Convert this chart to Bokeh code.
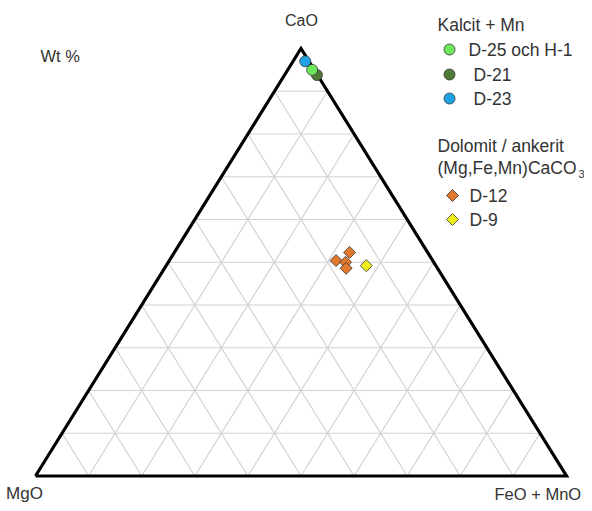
import numpy as np
from bokeh.plotting import figure
from bokeh.models import Range1d
from bokeh.core.properties import value
from bokeh.embed import file_html
from bokeh.resources import INLINE

# ---------------- data (wt %, CaO / MgO / FeO+MnO) ----------------
grid_ticks = [10, 20, 30, 40, 50, 60, 70, 80, 90]

d21_cao = [93.8]
d21_mgo = [0.1]
d21_feo = [6.1]

d25_cao = [95.0]
d25_mgo = [0.4]
d25_feo = [4.6]

d23_cao = [97.0]
d23_mgo = [0.7]
d23_feo = [2.3]

d12_cao = [52.3, 50.4, 50.0, 48.6]
d12_mgo = [14.7, 18.2, 16.6, 17.2]
d12_feo = [33.0, 31.4, 33.4, 34.2]

d9_cao = [49.2]
d9_mgo = [13.1]
d9_feo = [37.7]

# ---------------- layout ----------------
W_PX, H_PX = 584, 503
SH = 511  # y flip reference


def sy(y):
    return SH - y


LX, RX, TX = 35.0, 566.0, 300.5
BY, TY = sy(475.5), sy(48.0)
TW = RX - LX
TH = TY - BY


def tern(cao, mgo, feo):
    cao = np.asarray(cao, float)
    mgo = np.asarray(mgo, float)
    feo = np.asarray(feo, float)
    s = cao + mgo + feo
    c, f = cao / s, feo / s
    return LX + (f + c / 2.0) * TW, BY + c * TH


p = figure(width=W_PX, height=H_PX, output_backend="svg", toolbar_location=None,
           x_range=Range1d(0, W_PX), y_range=Range1d(SH - H_PX, SH),
           min_border=0)
p.axis.visible = False
p.grid.visible = False
p.outline_line_color = None
p.background_fill_color = "white"

FONT = value("Liberation Sans")
GRID = "#d2d2d2"

# grid lines
xs, ys = [], []
for t in grid_ticks:
    r = 100 - t
    x, y = tern([t, t], [r, 0], [0, r]); xs.append(list(x)); ys.append(list(y))
    x, y = tern([r, 0], [t, t], [0, r]); xs.append(list(x)); ys.append(list(y))
    x, y = tern([r, 0], [0, r], [t, t]); xs.append(list(x)); ys.append(list(y))
p.multi_line(xs, ys, line_color=GRID, line_width=1.2)

# triangle border
bx, by = tern([0, 0, 100, 0], [100, 0, 0, 100], [0, 100, 0, 0])
p.line(bx, by, line_color="black", line_width=3.2, line_join="miter")

# data points
C_D25 = "#6de85a"
C_D21 = "#4f7a35"
C_D23 = "#1ea4e4"
C_D12 = "#e0782e"
C_D9 = "#f2ee1c"
EDGE = "#333333"

x, y = tern(d21_cao, d21_mgo, d21_feo)
p.scatter(x, y, marker="circle", size=11, fill_color=C_D21, line_color=EDGE, line_width=0.8)
x, y = tern(d25_cao, d25_mgo, d25_feo)
p.scatter(x, y, marker="circle", size=11, fill_color=C_D25, line_color=EDGE, line_width=0.8)
x, y = tern(d23_cao, d23_mgo, d23_feo)
p.scatter(x, y, marker="circle", size=11, fill_color=C_D23, line_color=EDGE, line_width=0.8)

x, y = tern(d12_cao, d12_mgo, d12_feo)
p.scatter(x, y, marker="square", angle=np.pi / 4, size=8.5, fill_color=C_D12,
          line_color=EDGE, line_width=0.8)
x, y = tern(d9_cao, d9_mgo, d9_feo)
p.scatter(x, y, marker="square", angle=np.pi / 4, size=8.5, fill_color=C_D9,
          line_color=EDGE, line_width=0.8)

# corner labels
TC = "#333333"
p.text([301], [sy(20)], ["CaO"], text_font=FONT, text_font_size="16px", text_color=TC,
       text_align="center", text_baseline="middle")
p.text([40], [sy(55)], ["Wt %"], text_font=FONT, text_font_size="16.5px", text_color=TC,
       text_align="left", text_baseline="middle")
p.text([24], [sy(493)], ["MgO"], text_font=FONT, text_font_size="17px", text_color=TC,
       text_align="center", text_baseline="middle")
p.text([494], [sy(493)], ["FeO + MnO"], text_font=FONT, text_font_size="16.5px", text_color=TC,
       text_align="left", text_baseline="middle")

# legend (drawn manually)
LFS = "17.5px"
leg_head_x = 437
p.text([leg_head_x], [sy(24)], ["Kalcit + Mn"], text_font=FONT, text_font_size=LFS,
       text_color=TC, text_align="left", text_baseline="middle")
leg_cols = [C_D25, C_D21, C_D23]
leg_lbls = ["D-25 och H-1", "D-21", "D-23"]
leg_ys = [49, 74, 98]
leg_tx = [468, 473, 473]
for c, lbl, yy, tx in zip(leg_cols, leg_lbls, leg_ys, leg_tx):
    p.scatter([449], [sy(yy)], marker="circle", size=11, fill_color=c,
              line_color=EDGE, line_width=0.8)
    p.text([tx], [sy(yy)], [lbl], text_font=FONT, text_font_size=LFS, text_color=TC,
           text_align="left", text_baseline="middle")

p.text([leg_head_x], [sy(145)], ["Dolomit / ankerit"], text_font=FONT, text_font_size=LFS,
       text_color=TC, text_align="left", text_baseline="middle")
p.text([leg_head_x], [sy(167)], ["(Mg,Fe,Mn)CaCO"], text_font=FONT, text_font_size=LFS,
       text_color=TC, text_align="left", text_baseline="middle")
p.text([578], [sy(173)], ["3"], text_font=FONT, text_font_size="11px",
       text_color=TC, text_align="left", text_baseline="middle")

leg2_cols = [C_D12, C_D9]
leg2_lbls = ["D-12", "D-9"]
leg2_ys = [195, 219]
for c, lbl, yy in zip(leg2_cols, leg2_lbls, leg2_ys):
    p.scatter([452], [sy(yy)], marker="square", angle=np.pi / 4, size=8.5, fill_color=c,
              line_color=EDGE, line_width=0.8)
    p.text([469], [sy(yy)], [lbl], text_font=FONT, text_font_size=LFS, text_color=TC,
           text_align="left", text_baseline="middle")

open("out.html", "w").write(file_html(p, INLINE))
